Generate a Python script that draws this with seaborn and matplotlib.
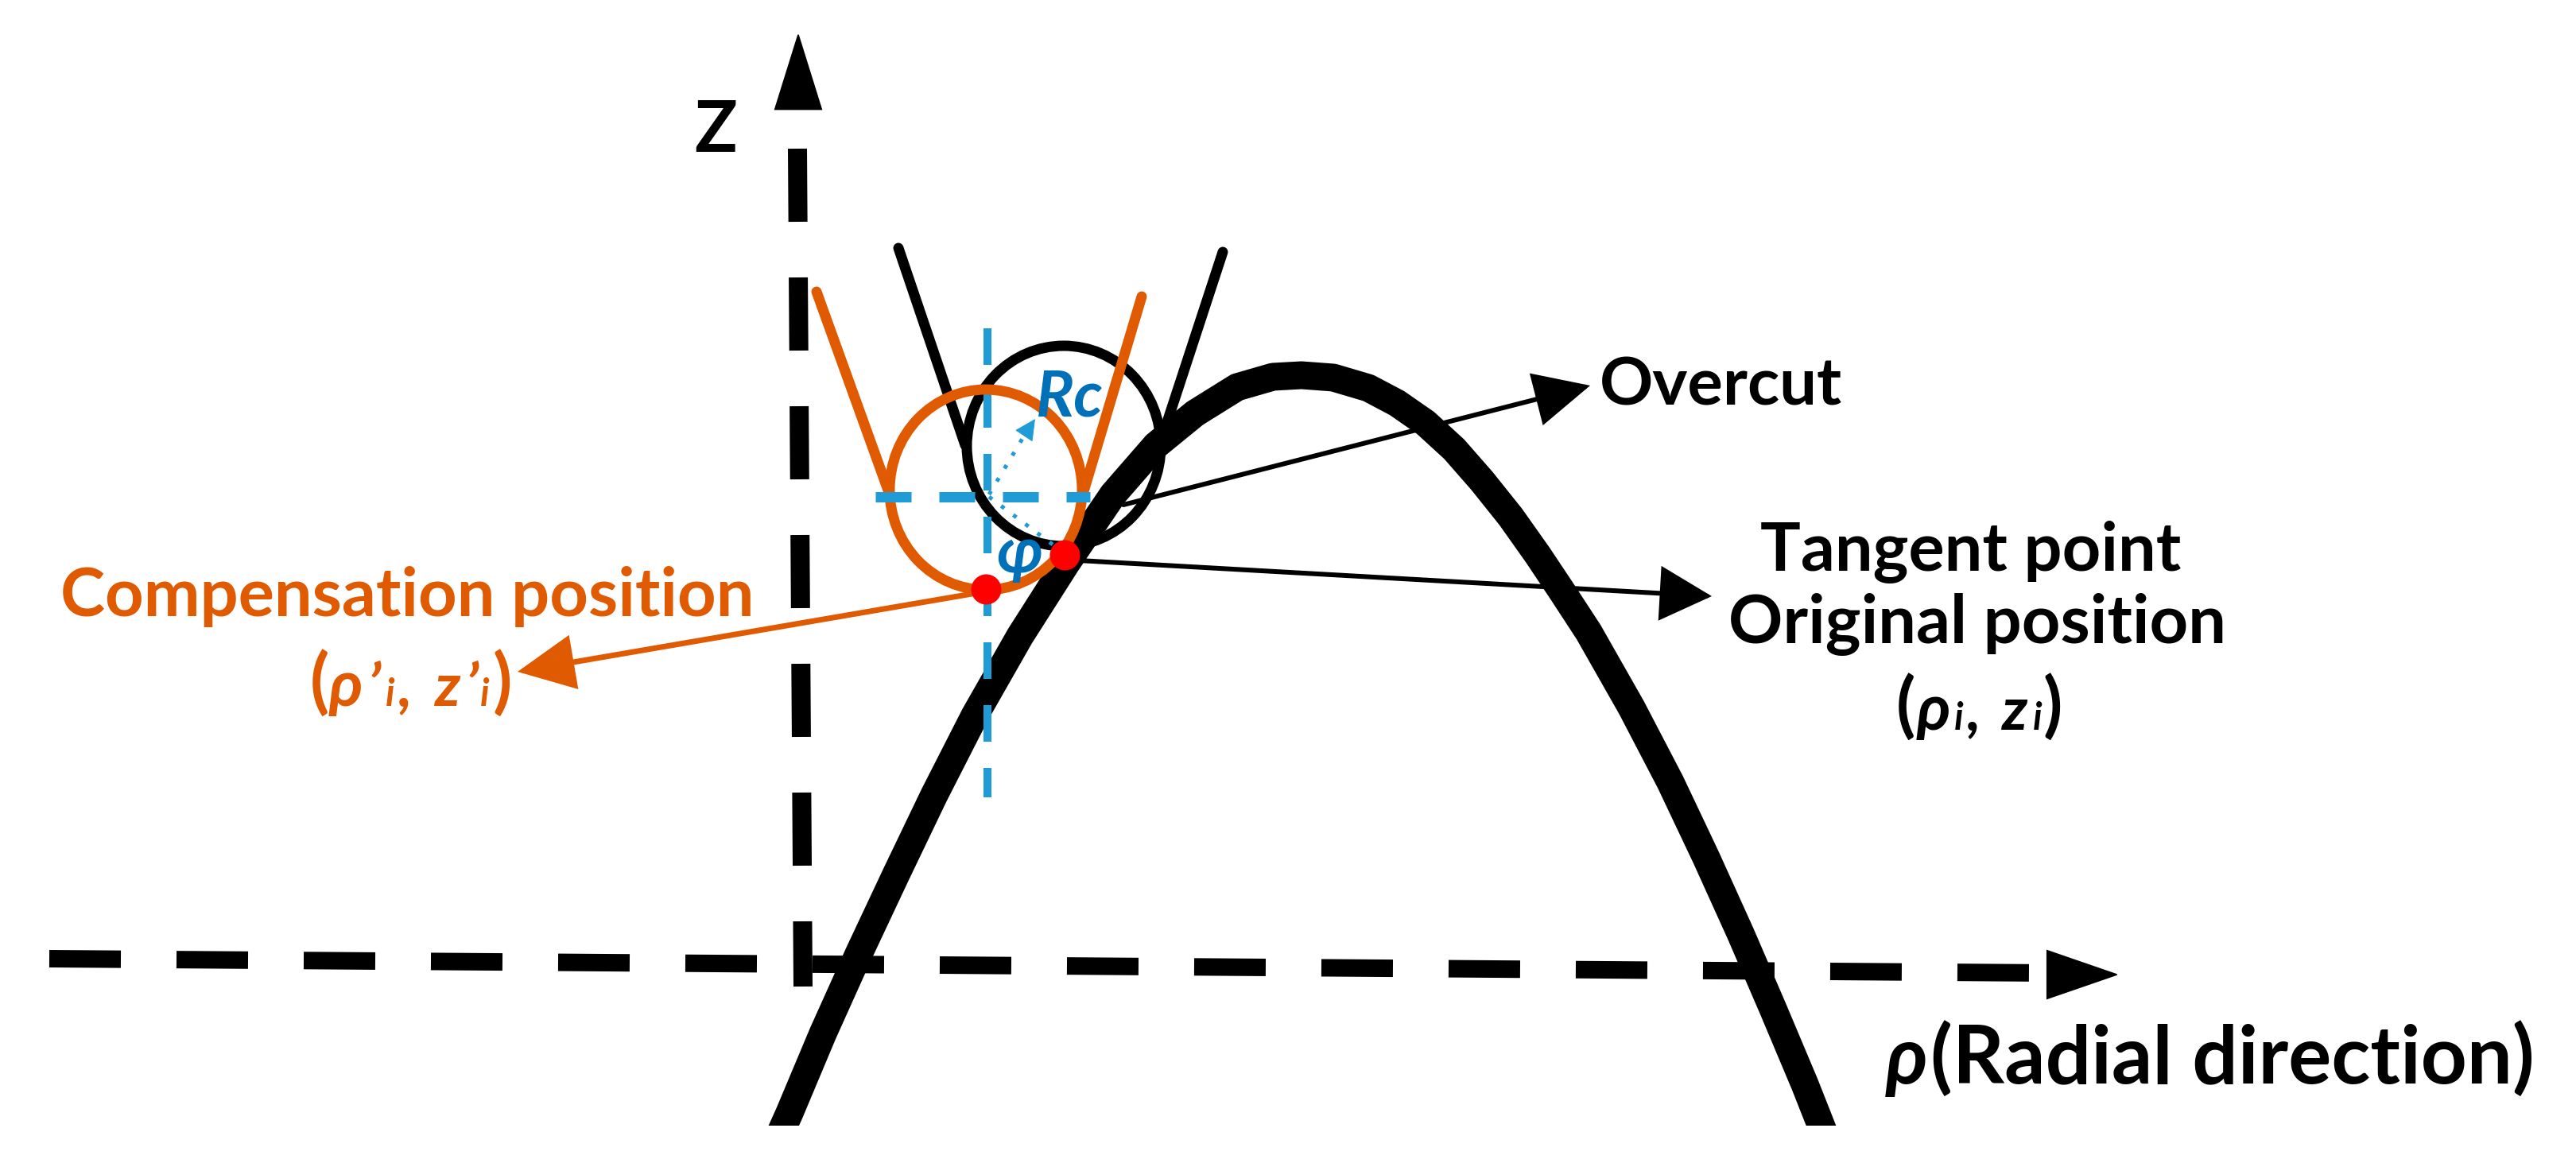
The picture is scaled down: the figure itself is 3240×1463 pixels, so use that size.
import matplotlib
matplotlib.use("Agg")
import matplotlib.pyplot as plt
from matplotlib.patches import Ellipse, Rectangle
import seaborn as sns

sns.set_theme(style="white")
plt.rcParams["font.family"] = ["Lato", "DejaVu Sans"]
plt.rcParams["lines.scale_dashes"] = False

W, H, DPI = 3240, 1463, 100
PT = 72 / DPI

BLACK = "#000000"
ORANGE = "#DF5A00"
BLUE = "#1F9BD7"
TEXTBLUE = "#0070B8"
RED = "#FF0000"

# curve (pixel coordinates of the reference)
profile_x = [975, 993, 1035, 1080, 1127, 1175, 1226, 1283, 1341, 1400, 1454, 1503, 1556, 1601, 1637,
             1677, 1721, 1757, 1793, 1829, 1864, 1900, 1934, 1966, 1998, 2052, 2101, 2146, 2189,
             2230, 2270, 2300]
profile_y = [1440, 1400, 1300, 1200, 1100, 1000, 900, 800, 709, 622, 560, 520, 487, 474, 472,
             475, 488, 507, 532, 565, 605, 650, 698, 746, 795, 890, 984, 1079, 1174,
             1269, 1364, 1440]

z_axis_x = [1003, 1010]
z_axis_y = [187, 1241]
rho_axis_x = [62, 2578]
rho_axis_y = [1206, 1224]

tool_left_x = [1130, 1214]
tool_left_y = [312, 560]
tool_right_x = [1538, 1465]
tool_right_y = [317, 540]
tool_center = (1338, 561)
tool_radius = (122, 126)

comp_left_x = [1027, 1120]
comp_left_y = [367, 625]
comp_right_x = [1436, 1361]
comp_right_y = [373, 625]
comp_center = (1240, 616)
comp_radius = (121, 126)

blue_h_x = [1101, 1371]
blue_h_y = [625, 625]
blue_v_x = [1242, 1242]
blue_v_y = [413, 1003]
radius_x = [1244, 1290]
radius_y = [622, 545]
tangent_dot_x = [1244, 1336]
tangent_dot_y = [625, 694]

red_x = [1240, 1339]
red_y = [741, 698]

fig = plt.figure(figsize=(W / DPI, H / DPI), dpi=DPI, facecolor="white")
ax = fig.add_axes([0, 0, 1, 1])


def trace(xs, ys, color, width, dash=None, cap="butt", z=2):
    sns.lineplot(x=xs, y=ys, sort=False, estimator=None, errorbar=None,
                 color=color, linewidth=width * PT, ax=ax, zorder=z, legend=False)
    line = ax.lines[-1]
    line.set_solid_capstyle(cap)
    line.set_dash_capstyle(cap)
    if dash:
        line.set_linestyle((0, tuple(d * PT for d in dash)))
    return line


def arrow(tail, tip, color, width, head_len, head_w, z=3):
    ax.annotate("", xy=tip, xytext=tail, zorder=z,
                arrowprops=dict(arrowstyle=f"-|>,head_length={head_len * PT},head_width={head_w * PT / 2}",
                                mutation_scale=1, color=color, lw=width * PT,
                                shrinkA=0, shrinkB=0, joinstyle="miter"))


def ring(center, radius, color, width, z):
    ax.add_patch(Ellipse(center, 2 * radius[0], 2 * radius[1], fill=False,
                         edgecolor=color, linewidth=width * PT, zorder=z))


# axes
trace(z_axis_x, z_axis_y, BLACK, 24, dash=(92, 70))
trace(rho_axis_x, rho_axis_y, BLACK, 22, dash=(90, 70))
arrow((1004, 134), (1004, 41), BLACK, 2, 93, 58)
arrow((2578, 1226), (2665, 1226), BLACK, 2, 87, 60)

# thick profile
curve = trace(profile_x, profile_y, BLACK, 35, z=2)
curve.set_solid_joinstyle("round")
curve.set_clip_path(Rectangle((0, 0), W, 1416, transform=ax.transData))

# tool at the original position
trace(tool_left_x, tool_left_y, BLACK, 13, cap="round")
trace(tool_right_x, tool_right_y, BLACK, 13, cap="round")
ring(tool_center, tool_radius, BLACK, 13, 2)

# guides
trace(blue_h_x, blue_h_y, BLUE, 13, dash=(45, 35), z=5)
trace(blue_v_x, blue_v_y, BLUE, 10, dash=(46, 33), z=3)
trace(radius_x, radius_y, BLUE, 5, dash=(5, 14), z=5)
trace(tangent_dot_x, tangent_dot_y, BLUE, 5, dash=(5, 14), z=5)
arrow((1290, 545), (1302, 527), BLUE, 1, 24, 24, z=5)

# tool at the compensation position
trace(comp_left_x, comp_left_y, ORANGE, 13, cap="round", z=4)
trace(comp_right_x, comp_right_y, ORANGE, 13, cap="round", z=4)
ring(comp_center, comp_radius, ORANGE, 13, 4)

# leaders
arrow((1413, 635), (2000, 485), BLACK, 6, 60, 58)
arrow((1339, 704), (2153, 750), BLACK, 6, 56, 59)
arrow((1240, 744), (651, 845), ORANGE, 7, 60, 58, z=4)

sns.scatterplot(x=red_x, y=red_y, color=RED, s=(38 * PT) ** 2, linewidth=0, ax=ax, zorder=6, legend=False)


def label(x, y, s, color=BLACK, size=61, ha="center", style="normal"):
    ax.text(x, y, s, color=color, fontsize=size, fontweight="bold", ha=ha, va="baseline",
            fontstyle=style, zorder=7)


def glyphs(y, parts, color):
    for x, s, size, style in parts:
        ax.text(x, y, s, color=color, fontsize=size, fontweight="bold", fontstyle=style,
                ha="left", va="baseline", zorder=7)


ax.set_xlim(0, W)
ax.set_ylim(H, 0)
ax.axis("off")

label(900, 191, "Z", size=64)
label(2012, 510, "Overcut", ha="left", size=60)
label(2479, 717, "Tangent point")
label(2487, 808, "Original position")
label(512, 775, "Compensation position", color=ORANGE)
label(1345, 523, "Rc", color=TEXTBLUE, size=58, style="italic")
label(1282, 720, "φ", color=TEXTBLUE, size=58, style="italic")

glyphs(918, [(2385, "(", 64, "normal"), (2411, "ρ", 58, "italic"), (2458, "i", 34, "italic"),
             (2472, ",", 54, "normal"), (2518, "z", 54, "italic"), (2557, "i", 34, "italic"),
             (2570, ")", 64, "normal")], BLACK)
glyphs(888, [(390, "(", 64, "normal"), (414, "ρ", 58, "italic"), (462, "’", 54, "italic"),
             (485, "i", 34, "italic"), (499, ",", 54, "normal"), (547, "z", 54, "italic"),
             (585, "’", 54, "italic"), (604, "i", 34, "italic"), (620, ")", 64, "normal")], ORANGE)
glyphs(1363, [(2372, "ρ", 72, "italic"), (2428, "(Radial direction)", 73, "normal")], BLACK)

fig.savefig("out.png", dpi=DPI, facecolor="white")
